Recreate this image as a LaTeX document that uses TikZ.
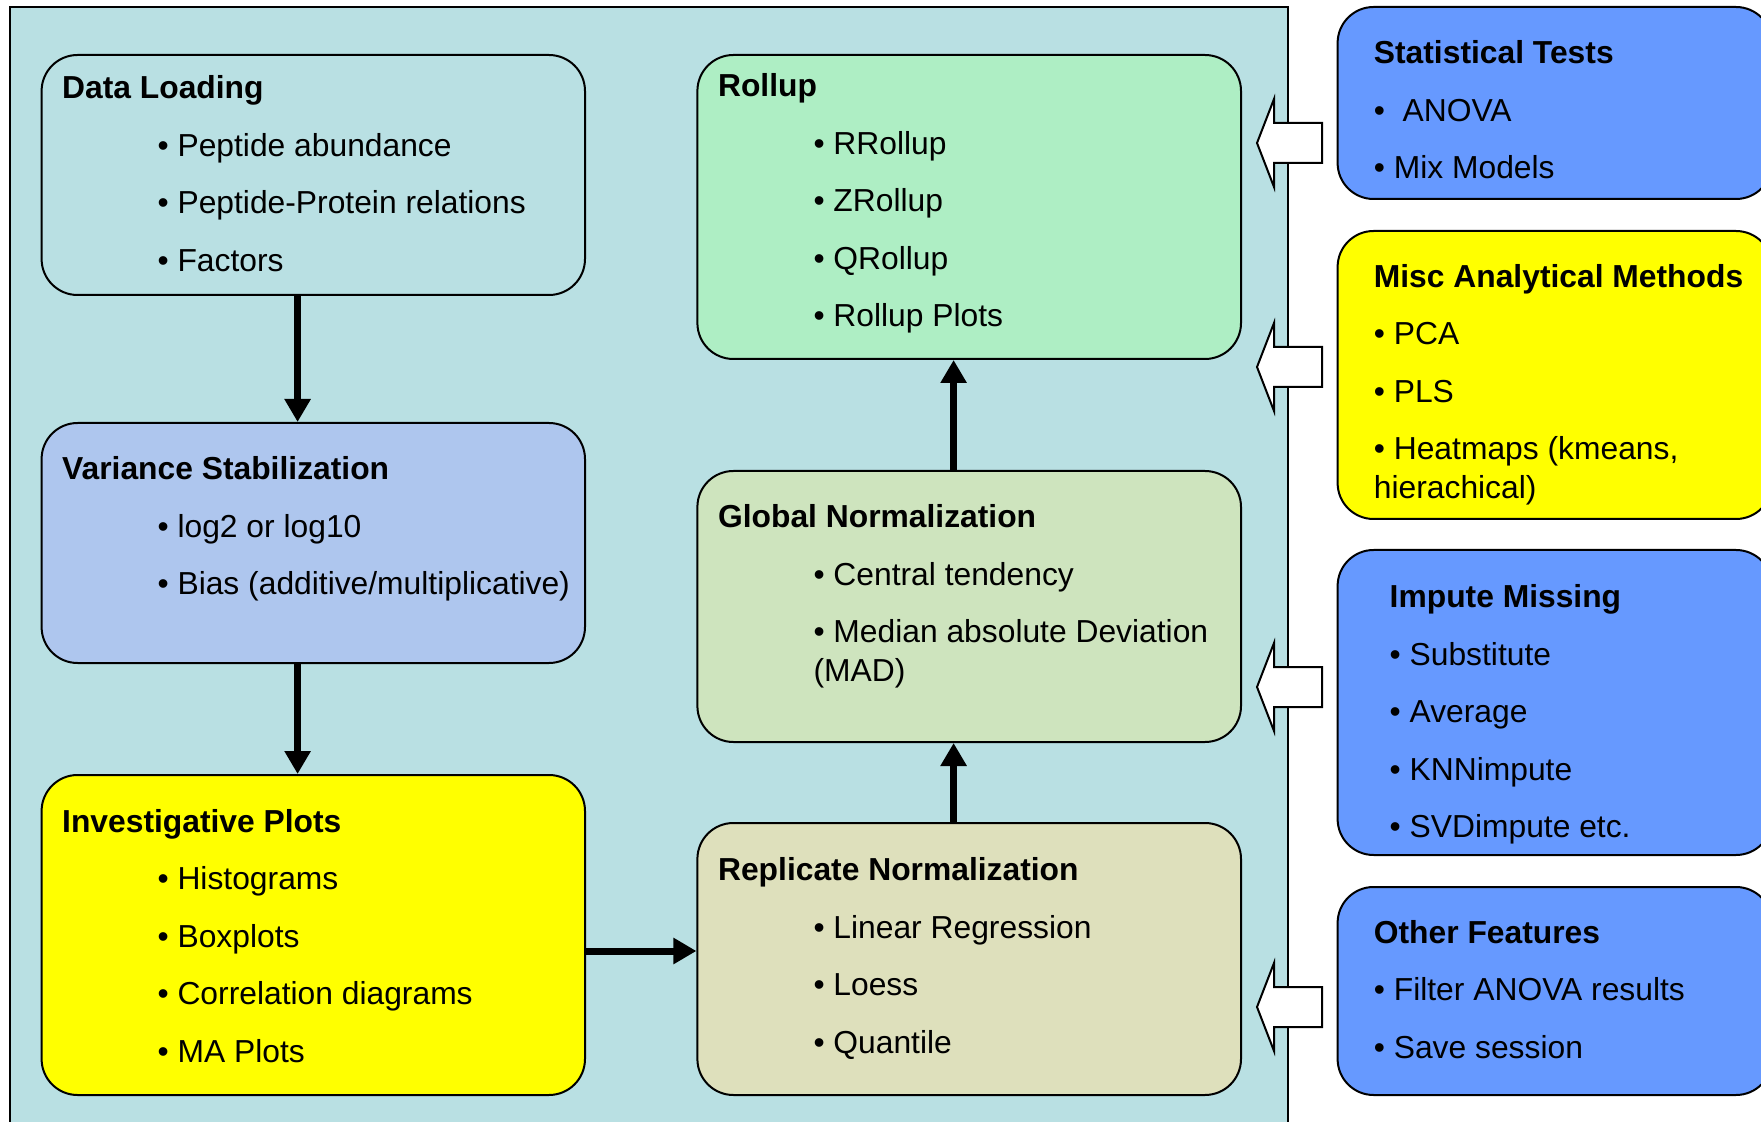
\documentclass[tikz,border=0pt]{standalone}
\usepackage{fontspec}
\setmainfont{Liberation Sans}
\usetikzlibrary{arrows.meta,calc}

\definecolor{panelcyan}{RGB}{185,224,227}
\definecolor{varblue}{RGB}{174,198,238}
\definecolor{rollgreen}{RGB}{174,238,196}
\definecolor{globgreen}{RGB}{206,228,190}
\definecolor{repltan}{RGB}{222,224,188}
\definecolor{sideblue}{RGB}{102,153,255}
\definecolor{hiyellow}{RGB}{255,255,0}

\newlength{\itemgap}\setlength{\itemgap}{9.35pt}
\newcommand{\ind}{\hspace*{47.7pt}}

\tikzset{
  box/.style={draw, line width=1pt, rounded corners=18pt, inner sep=0pt},
  txt/.style={anchor=base west, inner sep=0pt, font=\fontsize{15.9}{19.4}\selectfont},
  flow/.style={line width=3.5pt, -{Triangle[length=11.5pt,width=12.5pt]}},
  hollow/.style={draw, fill=white, line width=1pt, line join=miter}
}

\begin{document}
\begin{tikzpicture}[x=0.5pt, y=-0.5pt]
	\useasboundingbox (0,0) rectangle (1761,1122);
	\clip (0,0) rectangle (1761,1122);

	%% Panel behind the pipeline
	\draw[line width=1.2pt, fill=panelcyan] (10,7) rectangle (1288,1140);

	%% Left column
	\node[box, fill=panelcyan, minimum width=271.7pt, minimum height=120pt] (load) at (313.3,175) {};
	\node[box, fill=varblue, minimum width=271.7pt, minimum height=120pt] (vst) at (313.3,543) {};
	\node[box, fill=hiyellow, minimum width=271.7pt, minimum height=160pt] (inv) at (313.3,935) {};

	%% Middle column
	\node[box, fill=rollgreen, minimum width=271.8pt, minimum height=152pt] (roll) at (969.2,207) {};
	\node[box, fill=globgreen, minimum width=271.8pt, minimum height=135.5pt] (gnorm) at (969.2,606.5) {};
	\node[box, fill=repltan, minimum width=271.8pt, minimum height=136pt] (rnorm) at (969.2,959) {};

	%% Right column (cut off at the page edge)
	\node[box, fill=sideblue, minimum width=217.2pt, minimum height=96pt] (stat) at (1554.8,103) {};
	\node[box, fill=hiyellow, minimum width=217.2pt, minimum height=144pt] (misc) at (1554.8,375) {};
	\node[box, fill=sideblue, minimum width=217.2pt, minimum height=152.5pt] (imp) at (1554.8,702.5) {};
	\node[box, fill=sideblue, minimum width=217.2pt, minimum height=104pt] (oth) at (1554.8,991) {};

	%% Texts
	\node[txt] (loadtxt) at (61.8,98.8) {\begin{tabular}[t]{@{}l@{}}
		\textbf{Data Loading}\\[\itemgap]
		\ind• Peptide abundance\\[\itemgap]
		\ind• Peptide-Protein relations\\[\itemgap]
		\ind• Factors
	\end{tabular}};
	\node[txt] (vsttxt) at (61.8,479.6) {\begin{tabular}[t]{@{}l@{}}
		\textbf{Variance Stabilization}\\[\itemgap]
		\ind• log2 or log10\\[\itemgap]
		\ind• Bias (additive/multiplicative)
	\end{tabular}};
	\node[txt] (invtxt) at (61.8,832.2) {\begin{tabular}[t]{@{}l@{}}
		\textbf{Investigative Plots}\\[\itemgap]
		\ind• Histograms\\[\itemgap]
		\ind• Boxplots\\[\itemgap]
		\ind• Correlation diagrams\\[\itemgap]
		\ind• MA Plots
	\end{tabular}};
	\node[txt] (rolltxt) at (717.7,96.6) {\begin{tabular}[t]{@{}l@{}}
		\textbf{Rollup}\\[\itemgap]
		\ind• RRollup\\[\itemgap]
		\ind• ZRollup\\[\itemgap]
		\ind• QRollup\\[\itemgap]
		\ind• Rollup Plots
	\end{tabular}};
	\node[txt] (gnormtxt) at (717.7,527.9) {\begin{tabular}[t]{@{}l@{}}
		\textbf{Global Normalization}\\[\itemgap]
		\ind• Central tendency\\[\itemgap]
		\ind• Median absolute Deviation\\
		\ind(MAD)
	\end{tabular}};
	\node[txt] (rnormtxt) at (717.7,880.5) {\begin{tabular}[t]{@{}l@{}}
		\textbf{Replicate Normalization}\\[\itemgap]
		\ind• Linear Regression\\[\itemgap]
		\ind• Loess\\[\itemgap]
		\ind• Quantile
	\end{tabular}};
	\node[txt] (stattxt) at (1373.5,64) {\begin{tabular}[t]{@{}l@{}}
		\textbf{Statistical Tests}\\[\itemgap]
		• \ ANOVA\\[\itemgap]
		• Mix Models
	\end{tabular}};
	\node[txt] (misctxt) at (1373.5,287.5) {\begin{tabular}[t]{@{}l@{}}
		\textbf{Misc Analytical Methods}\\[\itemgap]
		• PCA\\[\itemgap]
		• PLS\\[\itemgap]
		• Heatmaps (kmeans,\\
		hierachical)
	\end{tabular}};
	\node[txt] (imptxt) at (1389.3,607.6) {\begin{tabular}[t]{@{}l@{}}
		\textbf{Impute Missing}\\[\itemgap]
		• Substitute\\[\itemgap]
		• Average\\[\itemgap]
		• KNNimpute\\[\itemgap]
		• SVDimpute etc.
	\end{tabular}};
	\node[txt] (othtxt) at (1373.5,943.4) {\begin{tabular}[t]{@{}l@{}}
		\textbf{Other Features}\\[\itemgap]
		• Filter ANOVA results\\[\itemgap]
		• Save session
	\end{tabular}};

	%% Flow arrows
	\coordinate (lcol) at (297.6,0);
	\coordinate (mcol) at (953.6,0);
	\coordinate (hz) at (0,951);
	\draw[flow] (lcol |- load.south) -- (lcol |- vst.north);
	\draw[flow] (lcol |- vst.south) -- (lcol |- inv.north);
	\draw[flow] (inv.east |- hz) -- (rnorm.west |- hz);
	\draw[flow] (mcol |- rnorm.north) -- (mcol |- gnorm.south);
	\draw[flow] (mcol |- gnorm.north) -- (mcol |- roll.south);

	%% Hollow arrows from the side boxes
	\draw[hollow] (1257,143) -- ++(17,-44) -- ++(0,24) -- ++(48,0) -- ++(0,40) -- ++(-48,0) -- ++(0,24) -- cycle;
	\draw[hollow] (1257,367) -- ++(17,-44) -- ++(0,24) -- ++(48,0) -- ++(0,40) -- ++(-48,0) -- ++(0,24) -- cycle;
	\draw[hollow] (1257,687) -- ++(17,-44) -- ++(0,24) -- ++(48,0) -- ++(0,40) -- ++(-48,0) -- ++(0,24) -- cycle;
	\draw[hollow] (1257,1007) -- ++(17,-44) -- ++(0,24) -- ++(48,0) -- ++(0,40) -- ++(-48,0) -- ++(0,24) -- cycle;
\end{tikzpicture}
\end{document}
